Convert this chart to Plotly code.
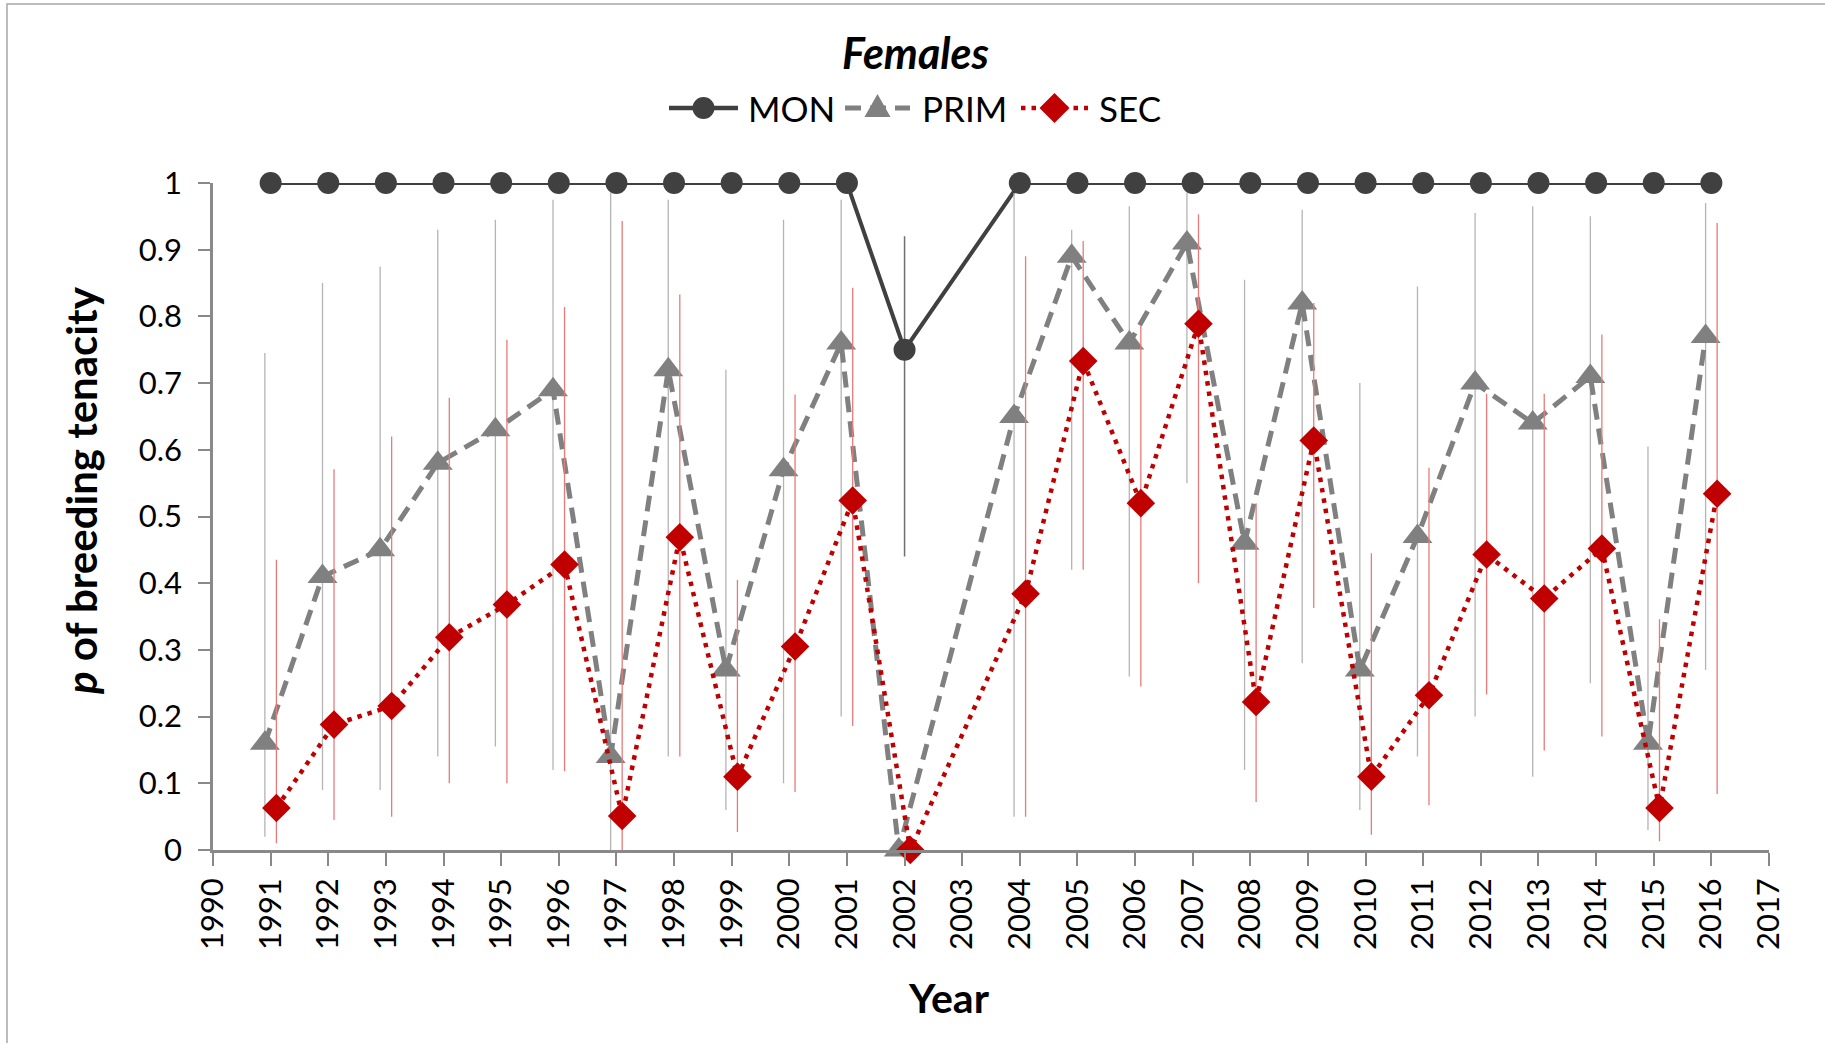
import plotly.graph_objects as go

# ---- data ----
years = [1991, 1992, 1993, 1994, 1995, 1996, 1997, 1998, 1999, 2000, 2001, 2002,
         2004, 2005, 2006, 2007, 2008, 2009, 2010, 2011, 2012, 2013, 2014, 2015, 2016]

mon = [1, 1, 1, 1, 1, 1, 1, 1, 1, 1, 1, 0.75,
       1, 1, 1, 1, 1, 1, 1, 1, 1, 1, 1, 1, 1]
mon_low = [1, 1, 1, 1, 1, 1, 1, 1, 1, 1, 1, 0.44,
           1, 1, 1, 1, 1, 1, 1, 1, 1, 1, 1, 1, 1]
mon_up = [1, 1, 1, 1, 1, 1, 1, 1, 1, 1, 1, 0.92,
          1, 1, 1, 1, 1, 1, 1, 1, 1, 1, 1, 1, 1]

prim = [0.16, 0.41, 0.45, 0.58, 0.63, 0.69, 0.14, 0.72, 0.27, 0.57, 0.76, 0.0,
        0.65, 0.89, 0.76, 0.91, 0.46, 0.82, 0.27, 0.47, 0.70, 0.64, 0.71, 0.16, 0.77]
prim_low = [0.02, 0.09, 0.09, 0.14, 0.155, 0.12, 0.0, 0.14, 0.06, 0.10, 0.20, 0.0,
            0.05, 0.42, 0.26, 0.55, 0.12, 0.28, 0.06, 0.14, 0.20, 0.11, 0.25, 0.03, 0.27]
prim_up = [0.745, 0.85, 0.875, 0.93, 0.945, 0.975, 0.985, 0.975, 0.72, 0.945, 0.975, 0.0,
           0.985, 0.93, 0.965, 0.985, 0.855, 0.96, 0.70, 0.845, 0.955, 0.965, 0.95, 0.605, 0.97]

sec = [0.063, 0.188, 0.216, 0.319, 0.368, 0.428, 0.051, 0.469, 0.11, 0.305, 0.524, 0.0,
       0.384, 0.733, 0.52, 0.789, 0.222, 0.614, 0.11, 0.232, 0.443, 0.377, 0.452, 0.063, 0.534]
sec_low = [0.01, 0.045, 0.05, 0.10, 0.10, 0.118, 0.0, 0.14, 0.027, 0.087, 0.186, 0.0,
           0.05, 0.42, 0.245, 0.40, 0.072, 0.363, 0.023, 0.067, 0.233, 0.149, 0.17, 0.013, 0.084]
sec_up = [0.435, 0.571, 0.62, 0.678, 0.765, 0.814, 0.943, 0.833, 0.405, 0.683, 0.843, 0.0,
          0.89, 0.913, 0.786, 0.953, 0.52, 0.82, 0.445, 0.573, 0.684, 0.684, 0.773, 0.346, 0.94]

series_names = ["MON", "PRIM", "SEC"]
x_ticks = list(range(1990, 2018))
y_ticks = [0, 0.1, 0.2, 0.3, 0.4, 0.5, 0.6, 0.7, 0.8, 0.9, 1]
y_ticktext = ["0", "0.1", "0.2", "0.3", "0.4", "0.5", "0.6", "0.7", "0.8", "0.9", "1"]

# ---- style ----
FONT = "Lato"
OFFSET = 0.1  # horizontal offset of PRIM / SEC series
C_MON, C_PRIM, C_SEC = "#404040", "#808080", "#C00000"
DASH_PRIM, DASH_SEC = "16px,9px", "4.5px,6px"


def err(vals, low, up):
    return dict(type="data", symmetric=False,
                array=[u - v for v, u in zip(vals, up)],
                arrayminus=[v - l for v, l in zip(vals, low)])


fig = go.Figure()

fig.add_trace(go.Scatter(
    x=years, y=mon, name=series_names[0], mode="lines+markers",
    line=dict(color=C_MON, width=4),
    marker=dict(symbol="circle", size=22, color=C_MON),
    error_y=dict(**err(mon, mon_low, mon_up), color="#6f6f6f", thickness=1.5, width=0),
    cliponaxis=False, showlegend=False,
))

fig.add_trace(go.Scatter(
    x=[y - OFFSET for y in years], y=prim, name=series_names[1], mode="lines+markers",
    line=dict(color=C_PRIM, width=5, dash=DASH_PRIM),
    marker=dict(symbol="triangle-up", size=26, color=C_PRIM),
    error_y=dict(**err(prim, prim_low, prim_up), color="#b4b4b4", thickness=1.3, width=0),
    cliponaxis=False, showlegend=False,
))

fig.add_trace(go.Scatter(
    x=[y + OFFSET for y in years], y=sec, name=series_names[2], mode="lines+markers",
    line=dict(color=C_SEC, width=4.5, dash=DASH_SEC),
    marker=dict(symbol="diamond", size=22, color=C_SEC),
    error_y=dict(**err(sec, sec_low, sec_up), color="#e77b7b", thickness=1.3, width=0),
    cliponaxis=False, showlegend=False,
))

L, R, T, B = 213, 56, 183, 193
W, H = 1825, 1043
pw, ph = W - L - R, H - T - B


def px_x(px):
    return (px - L) / pw


def px_y(py):
    return (H - B - py) / ph


axis_col = "#898989"

# ---- manual legend (Excel-style long line samples) ----
LEG_Y = 108
legend_items = [
    # name, line x0, line x1, text x, color, dash, width, marker path (pixels, up = +)
    (series_names[0], 669, 738, 746, C_MON, "solid", 4.5, None),
    (series_names[1], 845, 910, 920, C_PRIM, DASH_PRIM, 5,
     "M -13 -9 L 13 -9 L 0 14 Z"),
    (series_names[2], 1021, 1088, 1097, C_SEC, DASH_SEC, 4.5,
     "M -15 0 L 0 15 L 15 0 L 0 -15 Z"),
]

shapes = [
    dict(type="rect", xref="paper", yref="paper",
         x0=px_x(7), x1=px_x(1835), y0=px_y(1055), y1=px_y(4),
         line=dict(color="#a6a6a6", width=1.5), fillcolor="rgba(0,0,0,0)",
         layer="below"),
]
annotations = [
    dict(text="<b><i>Females</i></b>", xref="paper", yref="paper",
         x=px_x(915), y=px_y(53), xanchor="center", yanchor="middle",
         showarrow=False, font=dict(family=FONT, size=43, color="black")),
    dict(text="<b>Year</b>", xref="paper", yref="paper",
         x=px_x(949), y=px_y(997), xanchor="center", yanchor="middle",
         showarrow=False, font=dict(family=FONT, size=41, color="black")),
    dict(text="<b><i>p</i> of breeding tenacity</b>", xref="paper", yref="paper",
         x=px_x(81), y=px_y(491), xanchor="center", yanchor="middle",
         textangle=-90, showarrow=False,
         font=dict(family=FONT, size=42, color="black")),
]

for name, lx0, lx1, tx, col, dash, lw, mpath in legend_items:
    cx = px_x((lx0 + lx1) / 2)
    cy = px_y(LEG_Y)
    shapes.append(dict(type="line", xref="paper", yref="paper",
                       x0=px_x(lx0), x1=px_x(lx1), y0=cy, y1=cy,
                       line=dict(color=col, width=lw, dash=dash)))
    if mpath is None:
        shapes.append(dict(type="circle", xref="paper", yref="paper",
                           xsizemode="pixel", ysizemode="pixel",
                           xanchor=cx, yanchor=cy, x0=-11, x1=11, y0=-11, y1=11,
                           fillcolor=col, line=dict(width=0)))
    else:
        shapes.append(dict(type="path", xref="paper", yref="paper",
                           xsizemode="pixel", ysizemode="pixel",
                           xanchor=cx, yanchor=cy,
                           path=mpath, fillcolor=col, line=dict(width=0)))
    annotations.append(dict(text=name, xref="paper", yref="paper",
                            x=px_x(tx), y=cy, xanchor="left", yanchor="middle",
                            showarrow=False,
                            font=dict(family=FONT, size=35, color="black")))

fig.update_layout(
    width=W, height=H,
    margin=dict(l=L, r=R, t=T, b=B, pad=0),
    paper_bgcolor="white", plot_bgcolor="white",
    font=dict(family=FONT, color="black", size=31),
    showlegend=False,
    xaxis=dict(range=[1990, 2017], tickmode="array", tickvals=x_ticks,
               ticktext=[str(t) for t in x_ticks], tickangle=-90,
               showgrid=False, zeroline=False, showline=True,
               linecolor=axis_col, linewidth=2.5,
               ticks="outside", ticklen=13, tickwidth=2, tickcolor=axis_col,
               tickfont=dict(family=FONT, size=31, color="black")),
    yaxis=dict(range=[0, 1], tickmode="array", tickvals=y_ticks, ticktext=y_ticktext,
               showgrid=False, zeroline=False, showline=True,
               linecolor=axis_col, linewidth=2.5,
               ticks="outside", ticklen=12, tickwidth=2, tickcolor=axis_col,
               ticklabelstandoff=10,
               tickfont=dict(family=FONT, size=31, color="black")),
    annotations=annotations,
    shapes=shapes,
)

fig.write_html(
    "out.html",
    config={"displayModeBar": False},
    post_script="document.body.style.margin='0';document.body.style.overflow='hidden';",
)
